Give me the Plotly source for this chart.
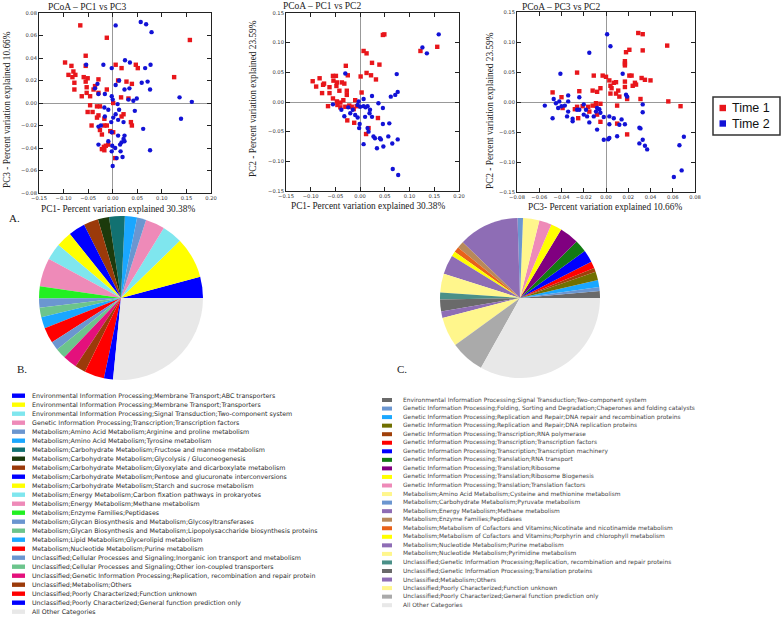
import plotly.graph_objects as go

W, H = 784, 619


def px(x):
    return x / W


def py(y):
    return 1 - y / H


# ---------------- PCoA data ----------------
# PC1 vs PC3
p13_t1_x = [-0.066, -0.012, 0.157, -0.055, -0.097, -0.084, -0.055, 0.006, 0.018, 0.047, 0.051, 0.125,
            -0.080, -0.076, -0.090, -0.082, -0.059, -0.051, -0.029, -0.055, -0.078, -0.053, -0.036, -0.039,
            -0.078, -0.012, 0.011, 0.028, 0.039, -0.053, -0.046, -0.063, -0.029, 0.017, 0.032, 0.001,
            -0.046, -0.032, -0.026, -0.051, -0.041, -0.029, -0.032, 0.022, 0.018, -0.017, -0.043, -0.017,
            -0.012, 0.037, 0.039, -0.026, -0.022, -0.005, 0.001, -0.009, -0.014, -0.018, -0.022, -0.017, 0.005]
p13_t1_y = [0.069, 0.058, 0.056, 0.042, 0.036, 0.033, 0.033, 0.034, 0.031, 0.034, 0.031, 0.023,
            0.028, 0.025, 0.025, 0.023, 0.023, 0.022, 0.021, 0.019, 0.018, 0.014, 0.015, 0.012,
            0.012, 0.012, 0.020, 0.019, 0.017, 0.009, 0.006, 0.006, 0.009, 0.005, 0.004, 0.000,
            -0.002, -0.003, -0.003, -0.008, -0.008, -0.011, -0.013, -0.010, -0.012, -0.014, -0.020, -0.020,
            -0.020, -0.017, -0.020, -0.024, -0.028, -0.025, -0.026, -0.037, -0.038, -0.039, -0.041, -0.042, -0.049]
p13_t2_x = [0.006, 0.057, 0.068, 0.079, 0.025, 0.035, -0.019, -0.002, -0.054, 0.077, 0.066, 0.013,
            0.059, 0.071, 0.076, 0.034, 0.024, 0.006, -0.031, -0.036, -0.029, -0.016, -0.002, 0.032,
            0.049, 0.042, 0.136, 0.161, 0.139, 0.000, 0.010, -0.017, -0.009, 0.013, 0.045, 0.006,
            0.001, -0.016, 0.011, 0.022, -0.003, -0.024, -0.029, 0.062, -0.002, 0.011, 0.024, 0.022,
            0.018, 0.015, 0.024, -0.009, -0.029, -0.001, 0.005, -0.002, 0.016, 0.076, 0.020, 0.008, 0.000]
p13_t2_y = [0.069, 0.072, 0.070, 0.063, 0.038, 0.036, 0.034, 0.031, 0.034, 0.034, 0.031, 0.020,
            0.018, 0.019, 0.012, 0.013, 0.012, 0.016, 0.017, 0.013, 0.008, 0.008, 0.006, 0.003,
            0.004, 0.002, 0.005, 0.001, -0.014, 0.003, -0.001, -0.004, -0.006, -0.006, -0.007, -0.010,
            -0.013, -0.012, -0.015, -0.017, -0.017, -0.020, -0.021, -0.023, -0.026, -0.029, -0.029, -0.032,
            -0.035, -0.037, -0.034, -0.034, -0.037, -0.038, -0.040, -0.043, -0.043, -0.042, -0.048, -0.049, -0.056]

# PC1 vs PC2
p12_t1_x = [0.049, 0.046, 0.007, 0.013, -0.029, 0.024, 0.039, 0.013, 0.022, 0.032, 0.001, -0.025,
            -0.096, -0.082, -0.089, -0.075, -0.073, -0.055, -0.049, -0.054, -0.047, -0.037, -0.032, -0.062,
            -0.048, -0.042, -0.027, -0.027, -0.077, -0.062, 0.003, -0.055, -0.047, -0.040, -0.034, -0.065,
            -0.010, -0.022, -0.017, -0.007, -0.013, -0.026, -0.012, 0.036, 0.017, 0.012, -0.040, -0.046,
            -0.030, 0.122, 0.156]
p12_t1_y = [0.114, 0.113, 0.086, 0.082, 0.061, 0.066, 0.063, 0.049, 0.045, 0.038, 0.043, 0.045,
            0.035, 0.040, 0.026, 0.029, 0.031, 0.044, 0.044, 0.036, 0.033, 0.033, 0.031, 0.025,
            0.027, 0.019, 0.019, 0.012, 0.015, 0.015, 0.016, 0.006, 0.001, -0.001, 0.003, -0.007,
            0.003, -0.006, -0.008, -0.007, -0.012, -0.031, -0.035, -0.027, -0.044, -0.054, -0.009, -0.005,
            -0.008, 0.086, 0.093]
p12_t2_x = [-0.030, 0.074, 0.076, 0.062, 0.071, 0.024, 0.007, -0.003, -0.005, 0.000, 0.007, 0.011,
            0.015, 0.020, 0.024, 0.019, 0.037, 0.046, -0.055, -0.032, -0.015, -0.020, -0.010, -0.005,
            -0.001, -0.002, 0.010, 0.015, 0.017, 0.007, 0.027, 0.030, 0.040, 0.042, 0.047, 0.034,
            0.046, 0.059, 0.057, 0.065, 0.076, 0.066, 0.077, -0.038, -0.024, 0.126, 0.135, 0.159]
p12_t2_y = [0.048, 0.047, 0.017, 0.009, 0.012, 0.010, 0.005, 0.001, -0.005, -0.008, -0.007, -0.009,
            -0.007, -0.013, -0.025, -0.019, -0.002, -0.010, -0.004, -0.024, -0.013, -0.019, -0.022, -0.026,
            -0.037, -0.044, -0.025, -0.044, -0.050, -0.071, -0.058, -0.061, -0.061, -0.063, -0.075, -0.078,
            -0.037, -0.036, -0.058, -0.070, -0.063, -0.113, -0.123, -0.013, -0.009, 0.092, 0.082, 0.114]

# PC3 vs PC2
p32_t1_x = [0.029, 0.033, 0.055, 0.033, 0.021, 0.018, 0.017, 0.017, 0.017, -0.026, -0.011, -0.003,
            0.000, 0.003, 0.007, 0.009, 0.017, 0.021, 0.023, 0.032, 0.035, 0.040, 0.026, 0.024,
            0.027, 0.017, 0.004, 0.005, -0.005, -0.012, -0.008, -0.024, -0.040, -0.048, 0.004, 0.009,
            0.011, 0.012, 0.019, 0.031, 0.056, 0.067, -0.009, -0.005, -0.012, -0.016, -0.021, -0.026,
            -0.039, -0.028, -0.015, -0.008, -0.025, -0.005, 0.010, 0.010, 0.019, -0.009]
p32_t1_y = [0.115, 0.113, 0.094, 0.086, 0.087, 0.083, 0.068, 0.064, 0.061, 0.049, 0.044, 0.044,
            0.042, 0.036, 0.032, 0.033, 0.034, 0.044, 0.044, 0.040, 0.037, 0.036, 0.032, 0.027,
            0.029, 0.025, 0.027, 0.023, 0.023, 0.019, 0.017, 0.018, 0.008, 0.016, 0.014, 0.014,
            0.019, 0.009, 0.005, 0.005, 0.001, -0.007, -0.002, -0.003, -0.006, -0.008, -0.007, -0.008,
            -0.010, -0.012, -0.016, -0.021, -0.027, -0.033, -0.036, -0.006, -0.054, -0.006]
p32_t2_x = [0.001, 0.004, -0.015, -0.041, 0.015, -0.034, -0.024, -0.047, -0.055, -0.042, -0.043, -0.040,
            -0.037, -0.034, -0.048, -0.034, -0.035, -0.030, -0.030, -0.026, -0.020, -0.017, -0.018, -0.015,
            -0.011, -0.009, -0.008, -0.006, -0.005, -0.020, -0.024, -0.002, -0.008, -0.002, 0.002, 0.003,
            0.010, 0.003, 0.003, 0.007, 0.012, 0.014, 0.017, 0.018, 0.019, 0.030, 0.031, 0.033,
            0.033, 0.030, 0.033, 0.035, 0.037, 0.066, 0.070, 0.068, 0.061, -0.045]
p32_t2_y = [0.113, 0.093, 0.082, 0.047, 0.047, 0.011, 0.008, 0.005, -0.006, 0.001, -0.010, -0.007,
            -0.006, 0.001, -0.027, -0.016, -0.024, -0.028, -0.032, -0.013, -0.021, -0.024, -0.013, -0.034,
            -0.024, -0.016, -0.010, -0.012, -0.018, -0.004, -0.013, -0.025, -0.046, -0.063, -0.062, -0.060,
            -0.057, -0.024, -0.037, -0.027, -0.038, -0.029, -0.037, 0.012, 0.009, -0.043, -0.044, -0.004,
            -0.017, -0.069, -0.063, -0.073, -0.079, -0.072, -0.058, -0.114, -0.125, -0.002]

group_names = ["Time 1", "Time 2"]
group_colors = ["#e8161b", "#1212d6"]

# ---------------- Pie B data ----------------
pieB_labels = [
    "Environmental Information Processing;Membrane Transport;ABC transporters",
    "Environmental Information Processing;Membrane Transport;Transporters",
    "Environmental Information Processing;Signal Transduction;Two-component system",
    "Genetic Information Processing;Transcription;Transcription factors",
    "Metabolism;Amino Acid Metabolism;Arginine and proline metabolism",
    "Metabolism;Amino Acid Metabolism;Tyrosine metabolism",
    "Metabolism;Carbohydrate Metabolism;Fructose and mannose metabolism",
    "Metabolism;Carbohydrate Metabolism;Glycolysis / Gluconeogenesis",
    "Metabolism;Carbohydrate Metabolism;Glyoxylate and dicarboxylate metabolism",
    "Metabolism;Carbohydrate Metabolism;Pentose and glucuronate interconversions",
    "Metabolism;Carbohydrate Metabolism;Starch and sucrose metabolism",
    "Metabolism;Energy Metabolism;Carbon fixation pathways in prokaryotes",
    "Metabolism;Energy Metabolism;Methane metabolism",
    "Metabolism;Enzyme Families;Peptidases",
    "Metabolism;Glycan Biosynthesis and Metabolism;Glycosyltransferases",
    "Metabolism;Glycan Biosynthesis and Metabolism;Lipopolysaccharide biosynthesis proteins",
    "Metabolism;Lipid Metabolism;Glycerolipid metabolism",
    "Metabolism;Nucleotide Metabolism;Purine metabolism",
    "Unclassified;Cellular Processes and Signaling;Inorganic ion transport and metabolism",
    "Unclassified;Cellular Processes and Signaling;Other ion-coupled transporters",
    "Unclassified;Genetic Information Processing;Replication, recombination and repair protein",
    "Unclassified;Metabolism;Others",
    "Unclassified;Poorly Characterized;Function unknown",
    "Unclassified;Poorly Characterized;General function prediction only",
    "All Other Categories",
]
pieB_values = [4.2, 8.1, 4.0, 3.8, 1.8, 2.4, 3.1, 2.2, 2.9, 3.3, 3.1, 3.3, 5.6,
               2.4, 1.8, 1.9, 2.2, 3.1, 1.7, 2.1, 2.8, 2.1, 3.9, 1.8, 26.6]
pieB_colors = ["#0000ff", "#ffff00", "#7fe6ee", "#ee8ab8", "#6b96d0", "#1aa7ff", "#127171",
               "#1c3a0c", "#9b3a0a", "#0000ff", "#ffff00", "#7fe6ee", "#ee8ab8", "#22f022",
               "#6b96d0", "#6cc48c", "#1aa7ff", "#ff0000", "#6b96d0", "#6cc48c", "#e4107c",
               "#9b3a0a", "#ff0000", "#0000ff", "#e8e8e8"]

# ---------------- Pie C data ----------------
pieC_labels = [
    "Environmental Information Processing;Signal Transduction;Two-component system",
    "Genetic Information Processing;Folding, Sorting and Degradation;Chaperones and folding catalysts",
    "Genetic Information Processing;Replication and Repair;DNA repair and recombination proteins",
    "Genetic Information Processing;Replication and Repair;DNA replication proteins",
    "Genetic Information Processing;Transcription;RNA polymerase",
    "Genetic Information Processing;Transcription;Transcription factors",
    "Genetic Information Processing;Transcription;Transcription machinery",
    "Genetic Information Processing;Translation;RNA transport",
    "Genetic Information Processing;Translation;Ribosome",
    "Genetic Information Processing;Translation;Ribosome Biogenesis",
    "Genetic Information Processing;Translation;Translation factors",
    "Metabolism;Amino Acid Metabolism;Cysteine and methionine metabolism",
    "Metabolism;Carbohydrate Metabolism;Pyruvate metabolism",
    "Metabolism;Energy Metabolism;Methane metabolism",
    "Metabolism;Enzyme Families;Peptidases",
    "Metabolism;Metabolism of Cofactors and Vitamins;Nicotinate and nicotinamide metabolism",
    "Metabolism;Metabolism of Cofactors and Vitamins;Porphyrin and chlorophyll metabolism",
    "Metabolism;Nucleotide Metabolism;Purine metabolism",
    "Metabolism;Nucleotide Metabolism;Pyrimidine metabolism",
    "Unclassified;Genetic Information Processing;Replication, recombination and repair proteins",
    "Unclassified;Genetic Information Processing;Translation proteins",
    "Unclassified;Metabolism;Others",
    "Unclassified;Poorly Characterized;Function unknown",
    "Unclassified;Poorly Characterized;General function prediction only",
    "All Other Categories",
]
pieC_values = [1.4, 0.8, 1.4, 1.7, 0.8, 1.4, 2.5, 2.5, 3.9, 2.2, 2.5, 3.3, 1.1,
               12.2, 1.4, 1.1, 1.0, 3.9, 3.8, 1.4, 2.4, 1.3, 6.0, 6.9, 33.1]
pieC_colors = ["#6a6a6a", "#6b96d0", "#1aa7ff", "#707000", "#a0400a", "#ff0000", "#0000ff",
               "#127a12", "#800080", "#ffff00", "#ee8ab8", "#fff68c", "#6b96d0", "#8e6db5",
               "#b8895a", "#e8621a", "#ffff00", "#8e6db5", "#fff68c", "#4a9088", "#6a6a6a",
               "#8e6db5", "#fff68c", "#aaaaaa", "#e8e8e8"]

# ---------------- figure ----------------
fig = go.Figure()

panels = [
    ("x", "y", (p13_t1_x, p13_t1_y), (p13_t2_x, p13_t2_y)),
    ("x2", "y2", (p12_t1_x, p12_t1_y), (p12_t2_x, p12_t2_y)),
    ("x3", "y3", (p32_t1_x, p32_t1_y), (p32_t2_x, p32_t2_y)),
]
symbols = ["square", "circle"]
for xa, ya, g1, g2 in panels:
    for gi, (gx, gy) in enumerate([g1, g2]):
        fig.add_trace(go.Scatter(
            x=gx, y=gy, mode="markers", xaxis=xa, yaxis=ya,
            name=group_names[gi], showlegend=False,
            marker=dict(color=group_colors[gi], symbol=symbols[gi], size=4.4, line=dict(width=0)),
        ))


def start_rotation(values):
    # matplotlib-style: first slice begins at 3 o'clock and runs counterclockwise
    return 90 - 360.0 * values[0] / sum(values)


fig.add_trace(go.Pie(
    labels=pieB_labels, values=pieB_values, sort=False, direction="counterclockwise",
    rotation=start_rotation(pieB_values),
    marker=dict(colors=pieB_colors, line=dict(width=0)), textinfo="none", showlegend=False,
    domain=dict(x=[px(39), px(203)], y=[py(380), py(216)]), hoverinfo="label+percent",
))
fig.add_trace(go.Pie(
    labels=pieC_labels, values=pieC_values, sort=False, direction="counterclockwise",
    rotation=start_rotation(pieC_values),
    marker=dict(colors=pieC_colors, line=dict(width=0)), textinfo="none", showlegend=False,
    domain=dict(x=[px(440), px(600)], y=[py(378), py(218)]), hoverinfo="label+percent",
))

tickfont = dict(family="DejaVu Sans", size=5.2, color="#333")


def axis_style(dom, rng, dtick):
    return dict(domain=dom, range=rng, dtick=dtick, tick0=0, tickformat=".2f", showgrid=False,
                zeroline=True, zerolinecolor="#999", zerolinewidth=1, showline=True, linecolor="#222",
                linewidth=1, mirror="ticks", ticks="inside", ticklen=4, tickcolor="#222",
                tickfont=tickfont, fixedrange=True, automargin=False)


fig.update_layout(
    width=W, height=H, margin=dict(l=0, r=0, t=0, b=0, pad=0, autoexpand=False),
    plot_bgcolor="white", paper_bgcolor="white",
    xaxis=dict(axis_style([px(39), px(211)], [-0.15, 0.20], 0.05), anchor="y"),
    yaxis=dict(axis_style([py(193), py(13)], [-0.08, 0.08], 0.02), anchor="x"),
    xaxis2=dict(axis_style([px(286), px(459)], [-0.15, 0.20], 0.05), anchor="y2"),
    yaxis2=dict(axis_style([py(191), py(13)], [-0.15, 0.15], 0.05), anchor="x2"),
    xaxis3=dict(axis_style([px(517), px(695)], [-0.08, 0.08], 0.02), anchor="y3"),
    yaxis3=dict(axis_style([py(192), py(12)], [-0.15, 0.15], 0.05), anchor="x3"),
    showlegend=False,
)

annotations = []
shapes = []
serif = "Liberation Serif"


def text(x, y, s, size, family=serif, color="#222", angle=0, xanchor="center"):
    annotations.append(dict(x=px(x), y=py(y), xref="paper", yref="paper", text=s, showarrow=False,
                            font=dict(family=family, size=size, color=color), textangle=angle,
                            xanchor=xanchor, yanchor="middle"))


# titles and axis labels
text(87, 7, "PCoA – PC1 vs PC3", 9.5)
text(322, 6, "PCoA – PC1 vs PC2", 9.5)
text(561, 7, "PCoA – PC3 vs PC2", 9.5)
text(118, 209, "PC1- Percent variation explained 30.38%", 9.3)
text(368, 206, "PC1- Percent variation explained 30.38%", 9.3)
text(605, 207, "PC3- Percent variation explained 10.66%", 9.3)
text(7, 110, "PC3 - Percent variation explained 10.66%", 9.3, angle=-90)
text(253, 99, "PC2 - Percent variation explained 23.59%", 9.3, angle=-90)
text(490, 111, "PC2 - Percent variation explained 23.59%", 9.3, angle=-90)
text(7, 218, "A.", 11, xanchor="left")
text(15, 369, "B.", 11, xanchor="left")
text(395, 369, "C.", 11, xanchor="left")

# Time legend
shapes.append(dict(type="rect", xref="paper", yref="paper", x0=px(713), x1=px(780), y0=py(135), y1=py(97),
                   line=dict(color="#333", width=1.5), fillcolor="white"))
for i, (nm, col) in enumerate(zip(group_names, group_colors)):
    yc = 108 + i * 15.5
    shapes.append(dict(type="rect", xref="paper", yref="paper", x0=px(719.5), x1=px(726), y0=py(yc + 3.2),
                       y1=py(yc - 3.2), line=dict(width=0), fillcolor=col))
    text(730, yc, nm, 12.5, family="Liberation Sans", color="#111", xanchor="left")

# pie legends
for i, (lab, col) in enumerate(zip(pieB_labels, pieB_colors)):
    yc = 395.7 + i * 9.0
    shapes.append(dict(type="rect", xref="paper", yref="paper", x0=px(12), x1=px(25), y0=py(yc + 2.2),
                       y1=py(yc - 2.2), line=dict(width=0), fillcolor=col))
    text(30, yc, lab, 6.3, family="DejaVu Sans", color="#2a2a2a", xanchor="left")

for i, (lab, col) in enumerate(zip(pieC_labels, pieC_colors)):
    yc = 400 + i * 8.55
    shapes.append(dict(type="rect", xref="paper", yref="paper", x0=px(382), x1=px(392), y0=py(yc + 2.0),
                       y1=py(yc - 2.0), line=dict(width=0), fillcolor=col))
    text(401, yc, lab, 5.9, family="DejaVu Sans", color="#444", xanchor="left")

fig.update_layout(annotations=annotations, shapes=shapes)
fig.write_html(
    "out.html",
    config={"displayModeBar": False},
    post_script="document.body.style.margin='0';document.body.style.overflow='hidden';",
)
